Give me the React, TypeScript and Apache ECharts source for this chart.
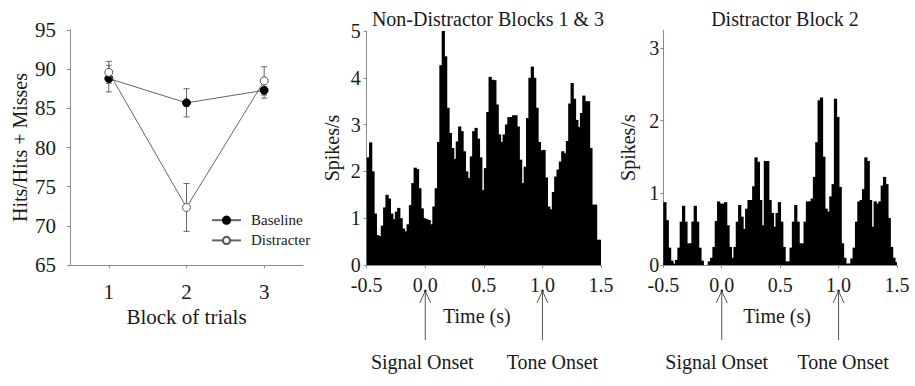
import React, { useEffect, useRef } from 'react';
import * as echarts from 'echarts';

// ---------- data ----------
const blockLabels = ['1', '2', '3'];
const baselineMean = [88.8, 85.7, 87.3];
const baselineErr = [1.7, 1.8, 1.0];
const distracterMean = [89.6, 72.35, 88.5];
const distracterErr = [1.4, 3.05, 1.8];

const binStart = -0.5;
const binWidth = 0.02;
const nonDistractorRates = [
  2.3, 2.62, 2.0, 1.1, 0.64, 0.62, 0.84, 1.23, 1.5, 1.42,
  1.1, 0.98, 1.14, 1.22, 1.0, 0.78, 0.72, 0.87, 1.28, 1.75,
  2.08, 2.05, 1.64, 1.21, 1.0, 0.98, 0.96, 0.87, 1.25, 1.64,
  2.63, 4.27, 5.0, 4.46, 3.36, 2.82, 2.5, 2.27, 2.64, 2.96,
  2.86, 2.43, 2.0, 1.86, 2.32, 2.86, 2.93, 2.7, 2.3, 1.6,
  2.07, 3.27, 4.02, 3.96, 3.95, 3.43, 2.79, 2.63, 2.79, 3.0,
  3.16, 3.16, 3.2, 3.2, 2.96, 2.25, 1.75, 2.1, 3.14, 4.0,
  4.24, 4.0, 3.36, 2.63, 2.45, 2.46, 1.87, 1.25, 1.19, 1.56,
  1.89, 2.04, 2.21, 2.43, 2.39, 2.65, 3.45, 3.89, 3.55, 3.1,
  2.95, 3.25, 3.62, 3.5, 3.5, 2.5, 1.29, 1.29, 0.54, 0.54,
];
const distractorRates = [
  0.87, 0.62, 0.24, 0.06, 0.02, 0.07, 0.24, 0.6, 0.82, 0.6,
  0.3, 0.3, 0.6, 0.82, 0.6, 0.24, 0.06, 0.0, 0.0, 0.05,
  0.1, 0.25, 0.61, 0.88, 0.85, 0.85, 0.87, 0.55, 0.25, 0.1,
  0.25, 0.6, 0.83, 0.67, 0.5, 0.78, 0.9, 0.9, 1.09, 1.49,
  1.43, 0.9, 0.55, 1.44, 1.44, 0.9, 0.72, 0.53, 0.72, 0.87,
  0.6, 0.25, 0.05, 0.05, 0.24, 0.6, 0.83, 0.6, 0.3, 0.3,
  0.6, 0.88, 0.88, 0.92, 1.22, 1.7, 2.28, 2.32, 1.5, 0.78,
  0.74, 0.95, 1.12, 2.3, 2.05, 1.08, 0.3, 0.1, 0.02, 0.02,
  0.09, 0.24, 0.6, 0.88, 0.9, 1.05, 1.49, 1.44, 0.9, 0.53,
  0.88, 0.85, 0.88, 1.1, 1.22, 1.12, 0.65, 0.25, 0.1, 0.04,
];
const timeTicks = [-0.5, 0, 0.5, 1.0, 1.5];
const ndRateTicks = [0, 1, 2, 3, 4, 5];
const dRateTicks = [0, 1, 2, 3];
const onsetTimes = [0, 1.0];
const onsetLabels = ['Signal Onset', 'Tone Onset'];

const FONT = '"Liberation Serif", "Times New Roman", serif';
const TXT = '#1a1a1a';
const AX = '#8c8c8c';

function bins(rates: number[]) {
  return rates.map((v, i) => [binStart + i * binWidth, binStart + (i + 1) * binWidth, v]);
}

function histRender(params: any, api: any) {
  const s = api.value(0);
  const e = api.value(1);
  const v = api.value(2);
  const p0 = api.coord([s, v]);
  const p1 = api.coord([e, 0]);
  const isLast = params.dataIndex === params.dataInsideLength - 1;
  return {
    type: 'rect',
    shape: {
      x: p0[0],
      y: p0[1],
      width: p1[0] - p0[0] + (isLast ? 0 : 0.9),
      height: p1[1] - p0[1],
    },
    style: { fill: '#000' },
  };
}

function errRender(params: any, api: any) {
  const x = api.value(0);
  const lo = api.value(1);
  const hi = api.value(2);
  const pLo = api.coord([x, lo]);
  const pHi = api.coord([x, hi]);
  const w = 3;
  const st = { stroke: '#666', lineWidth: 1 };
  return {
    type: 'group',
    children: [
      { type: 'line', shape: { x1: pHi[0], y1: pHi[1], x2: pLo[0], y2: pLo[1] }, style: st },
      { type: 'line', shape: { x1: pHi[0] - w, y1: pHi[1], x2: pHi[0] + w, y2: pHi[1] }, style: st },
      { type: 'line', shape: { x1: pLo[0] - w, y1: pLo[1], x2: pLo[0] + w, y2: pLo[1] }, style: st },
    ],
  };
}

const axisCommon = {
  axisLine: { show: true, onZero: false, lineStyle: { color: AX, width: 1 } },
  axisTick: { show: true, length: 3, lineStyle: { color: AX } },
  splitLine: { show: false },
};

export default function App() {
  const ref = useRef<HTMLDivElement>(null);
  useEffect(() => {
    if (!ref.current) return;
    const chart = echarts.init(ref.current, undefined, { renderer: 'svg' });
    const timeAxis = (gridIndex: number, nameShift: number) => ({
      type: 'value',
      gridIndex,
      min: -0.5,
      max: 1.5,
      ...axisCommon,
      axisTick: { show: true, length: 3, lineStyle: { color: AX }, customValues: timeTicks },
      axisLabel: {
        customValues: timeTicks,
        formatter: (v: number) => v.toFixed(1),
        fontFamily: FONT,
        fontSize: 20,
        color: TXT,
        margin: 10,
      },
      name: 'Time (s)',
      nameLocation: 'middle',
      nameGap: 41,
      nameTextStyle: { fontFamily: FONT, fontSize: 20, color: TXT, padding: [0, nameShift, 0, 0] },
    });
    const rateAxis = (gridIndex: number, max: number, ticks: number[], margin: number) => ({
      type: 'value',
      gridIndex,
      min: 0,
      max,
      ...axisCommon,
      axisTick: { show: true, length: 3, lineStyle: { color: AX }, customValues: ticks },
      axisLabel: { customValues: ticks, fontFamily: FONT, fontSize: 20, color: TXT, margin },
      name: 'Spikes/s',
      nameLocation: 'middle',
      nameGap: 25,
      nameTextStyle: { fontFamily: FONT, fontSize: 20, color: TXT },
    });

    const option: any = {
      animation: false,
      textStyle: { fontFamily: FONT },
      title: [
        {
          text: 'Non-Distractor Blocks 1 & 3',
          left: 483,
          top: 4,
          textAlign: 'center',
          textStyle: { fontFamily: FONT, fontSize: 20, fontWeight: 'normal', color: TXT },
        },
        {
          text: 'Distractor Block 2',
          left: 780,
          top: 4,
          textAlign: 'center',
          textStyle: { fontFamily: FONT, fontSize: 20, fontWeight: 'normal', color: TXT },
        },
      ],
      grid: [
        { left: 70, top: 30, width: 233, height: 235 },
        { left: 366.7, top: 31, width: 234.3, height: 234 },
        { left: 663.3, top: 30.25, width: 233.7, height: 234.75 },
      ],
      legend: {
        left: 206,
        top: 207.7,
        orient: 'vertical',
        itemWidth: 29,
        itemHeight: 9,
        itemGap: 5.2,
        textStyle: { fontFamily: FONT, fontSize: 15, color: TXT, padding: [0, 0, 0, 5] },
        data: ['Baseline', 'Distracter'],
      },
      xAxis: [
        {
          type: 'category',
          gridIndex: 0,
          data: blockLabels,
          boundaryGap: true,
          ...axisCommon,
          axisTick: { show: true, length: 3, alignWithLabel: true, lineStyle: { color: AX } },
          axisLabel: { fontFamily: FONT, fontSize: 21, color: TXT, margin: 16 },
          name: 'Block of trials',
          nameLocation: 'middle',
          nameGap: 41,
          nameTextStyle: { fontFamily: FONT, fontSize: 21, color: TXT },
        },
        timeAxis(1, 14),
        timeAxis(2, 6),
      ],
      yAxis: [
        {
          type: 'value',
          gridIndex: 0,
          min: 65,
          max: 95,
          interval: 5,
          ...axisCommon,
          axisLabel: { fontFamily: FONT, fontSize: 21, color: TXT, margin: 14 },
          name: 'Hits/Hits + Misses',
          nameLocation: 'middle',
          nameGap: 40,
          nameTextStyle: { fontFamily: FONT, fontSize: 20, color: TXT },
        },
        rateAxis(1, 5, ndRateTicks, 6),
        rateAxis(2, 3.25, dRateTicks, 4),
      ],
      series: [
        {
          type: 'custom',
          name: 'baselineErr',
          xAxisIndex: 0,
          yAxisIndex: 0,
          renderItem: errRender,
          encode: { x: 0, y: [1, 2] },
          data: baselineMean.map((m, i) => [i, m - baselineErr[i], m + baselineErr[i]]),
          z: 1,
        },
        {
          type: 'custom',
          name: 'distracterErr',
          xAxisIndex: 0,
          yAxisIndex: 0,
          renderItem: errRender,
          encode: { x: 0, y: [1, 2] },
          data: distracterMean.map((m, i) => [i, m - distracterErr[i], m + distracterErr[i]]),
          z: 1,
        },
        {
          type: 'line',
          name: 'Baseline',
          xAxisIndex: 0,
          yAxisIndex: 0,
          data: baselineMean,
          symbol: 'circle',
          symbolSize: 8,
          showSymbol: true,
          lineStyle: { color: '#666', width: 1 },
          itemStyle: { color: '#000', borderColor: '#000', borderWidth: 1 },
          z: 3,
        },
        {
          type: 'line',
          name: 'Distracter',
          xAxisIndex: 0,
          yAxisIndex: 0,
          data: distracterMean,
          symbol: 'circle',
          symbolSize: 8,
          showSymbol: true,
          lineStyle: { color: '#666', width: 1 },
          itemStyle: { color: '#fff', borderColor: '#555', borderWidth: 1 },
          z: 4,
        },
        {
          type: 'custom',
          name: 'nonDistractor',
          xAxisIndex: 1,
          yAxisIndex: 1,
          renderItem: histRender,
          encode: { x: [0, 1], y: 2 },
          data: bins(nonDistractorRates),
        },
        {
          type: 'custom',
          name: 'distractor',
          xAxisIndex: 2,
          yAxisIndex: 2,
          renderItem: histRender,
          encode: { x: [0, 1], y: 2 },
          data: bins(distractorRates),
        },
      ],
    };
    chart.setOption(option);

    // onset arrows beneath the two histograms
    const labelShift = [[-3, 10], [-5, 4.5]];
    const elements: any[] = [];
    [1, 2].forEach((axisIdx, pi) => {
      onsetTimes.forEach((t, k) => {
        const px = chart.convertToPixel({ xAxisIndex: axisIdx } as any, t) as unknown as number;
        const st = { stroke: '#555', lineWidth: 1 };
        elements.push(
          { type: 'line', shape: { x1: px, y1: 291, x2: px, y2: 340 }, style: st },
          { type: 'polyline', shape: { points: [[px - 5.5, 303], [px, 291], [px + 5.5, 303]] }, style: { ...st, fill: null } },
          {
            type: 'text',
            x: px + labelShift[pi][k],
            y: 361.5,
            style: {
              text: onsetLabels[k],
              fontFamily: FONT,
              fontSize: 20,
              fill: TXT,
              align: 'center',
              verticalAlign: 'middle',
            },
          },
        );
      });
    });
    chart.setOption({ graphic: { elements } });

    return () => chart.dispose();
  }, []);
  return (
    <div
      ref={ref}
      style={{ position: 'fixed', left: 0, top: 0, width: 915, height: 386, background: '#fff' }}
    />
  );
}
